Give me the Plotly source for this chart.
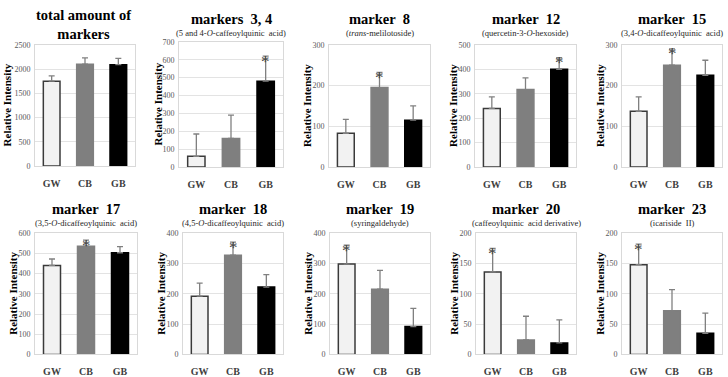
import plotly.graph_objects as go

categories = ["GW", "CB", "GB"]

titles = ["total amount of<br>markers", "markers  3, 4", "marker  8", "marker  12", "marker  15",
          "marker  17", "marker  18", "marker  19", "marker  20", "marker  23"]
subtitles = ["", "(5 and 4-<i>O</i>-caffeoylquinic  acid)", "(<i>trans</i>-melilotoside)",
             "(quercetin-3-<i>O</i>-hexoside)", "(3,4-<i>O</i>-dicaffeoylquinic  acid)",
             "(3,5-<i>O</i>-dicaffeoylquinic  acid)", "(4,5-<i>O</i>-dicaffeoylquinic  acid)",
             "(syringaldehyde)", "(caffeoylquinic  acid derivative)", "(icariside  II)"]

means = [
    [1750, 2100, 2090],
    [60, 160, 480],
    [83, 195, 115],
    [240, 317, 400],
    [137, 250, 225],
    [440, 535, 503],
    [192, 327, 222],
    [298, 215, 92],
    [136, 24, 19],
    [148, 72, 35],
]
errors = [
    [110, 130, 130],
    [125, 130, 140],
    [34, 37, 35],
    [47, 48, 47],
    [35, 40, 37],
    [32, 30, 30],
    [43, 43, 41],
    [62, 62, 60],
    [39, 39, 38],
    [34, 35, 33],
]
y_max = [2500, 700, 300, 500, 300, 600, 400, 400, 200, 200]
y_step = [500, 100, 100, 100, 100, 100, 100, 100, 50, 50]
star_index = [None, 2, 1, 2, 1, 1, 1, 0, 0, 0]

W, H = 728, 377
# plot-area pixel boxes (left, right, top, bottom)
boxes = [
    (35, 135, 42, 167), (179, 283, 39, 168), (329, 430, 42, 168), (475, 576, 42, 168), (622, 722, 42, 168),
    (35, 137, 236, 361), (183, 283, 236, 361), (330, 430, 236, 361), (476, 576, 236, 361), (622, 722, 236, 361),
]
ylabel_x = [7, 158, 307, 453, 600, 13, 161, 308, 454, 600]

bar_fill = ["#f2f2f2", "#7f7f7f", "#000000"]
bar_line = ["#3a3a3a", "#7f7f7f", "#000000"]
SERIF = "Liberation Serif, Times New Roman, serif"

fig = go.Figure()
annotations = []
layout_axes = {}

for i in range(10):
    l, r, t, b = boxes[i]
    n = "" if i == 0 else str(i + 1)
    xa, ya = "x" + n, "y" + n
    fig.add_trace(go.Bar(
        x=categories, y=means[i], xaxis=xa, yaxis=ya, width=0.5,
        marker=dict(color=bar_fill, line=dict(color=bar_line, width=1.5)),
        error_y=dict(type="data", symmetric=False, array=errors[i], arrayminus=[0, 0, 0],
                     color="#808080", thickness=1.3, width=3),
        showlegend=False, hoverinfo="skip",
    ))
    layout_axes["xaxis" + n] = dict(
        domain=[l / W, r / W], anchor=ya, showgrid=False, showline=True, mirror=True,
        linecolor="#d9d9d9", linewidth=1, ticks="", fixedrange=True,
        tickfont=dict(family=SERIF, size=10, color="#404040"), ticklabelstandoff=8,
        tickvals=categories, ticktext=["<b>%s</b>" % c for c in categories],
    )
    layout_axes["yaxis" + n] = dict(
        domain=[1 - b / H, 1 - t / H], anchor=xa, range=[0, y_max[i]], dtick=y_step[i],
        showgrid=True, gridcolor="#e3e3e3", gridwidth=1, showline=True, mirror=True,
        linecolor="#d9d9d9", linewidth=1, zeroline=False, ticks="", fixedrange=True,
        tickfont=dict(family=SERIF, size=8, color="#595959"), ticklabelstandoff=2,
    )
    cx = (l + r) / 2 / W
    if i == 0:
        annotations.append(dict(text="<b>total amount of<br>markers</b>", x=cx - 2 / W, y=1 - 21 / H,
                                xref="paper", yref="paper", showarrow=False, xanchor="center", yanchor="middle",
                                font=dict(family=SERIF, size=14.5, color="#000000")))
    else:
        ty = 15 if i < 5 else 211
        annotations.append(dict(text="<b>%s</b>" % titles[i], x=cx, y=1 - ty / H,
                                xref="paper", yref="paper", showarrow=False, xanchor="center", yanchor="middle",
                                font=dict(family=SERIF, size=14.5, color="#000000")))
        annotations.append(dict(text=subtitles[i], x=cx, y=1 - (ty + 15) / H,
                                xref="paper", yref="paper", showarrow=False, xanchor="center", yanchor="middle",
                                font=dict(family=SERIF, size=8.5, color="#262626")))
    # y-axis title
    annotations.append(dict(text="<b>Relative Intensity</b>", x=ylabel_x[i] / W, y=1 - (t + b) / 2 / H,
                            xref="paper", yref="paper", showarrow=False, textangle=-90,
                            xanchor="center", yanchor="middle",
                            font=dict(family=SERIF, size=11, color="#000000")))
    s = star_index[i]
    if s is not None:
        annotations.append(dict(text="*", x=categories[s], y=means[i][s] + errors[i][s],
                                xref=xa, yref=ya, showarrow=False, xanchor="center", yanchor="middle",
                                yshift=-5, font=dict(family=SERIF, size=17, color="#404040")))

fig.update_layout(
    width=W, height=H, margin=dict(l=0, r=0, t=0, b=0),
    paper_bgcolor="white", plot_bgcolor="white", bargap=0.5,
    annotations=annotations, **layout_axes,
)

fig.write_html("out.html")
